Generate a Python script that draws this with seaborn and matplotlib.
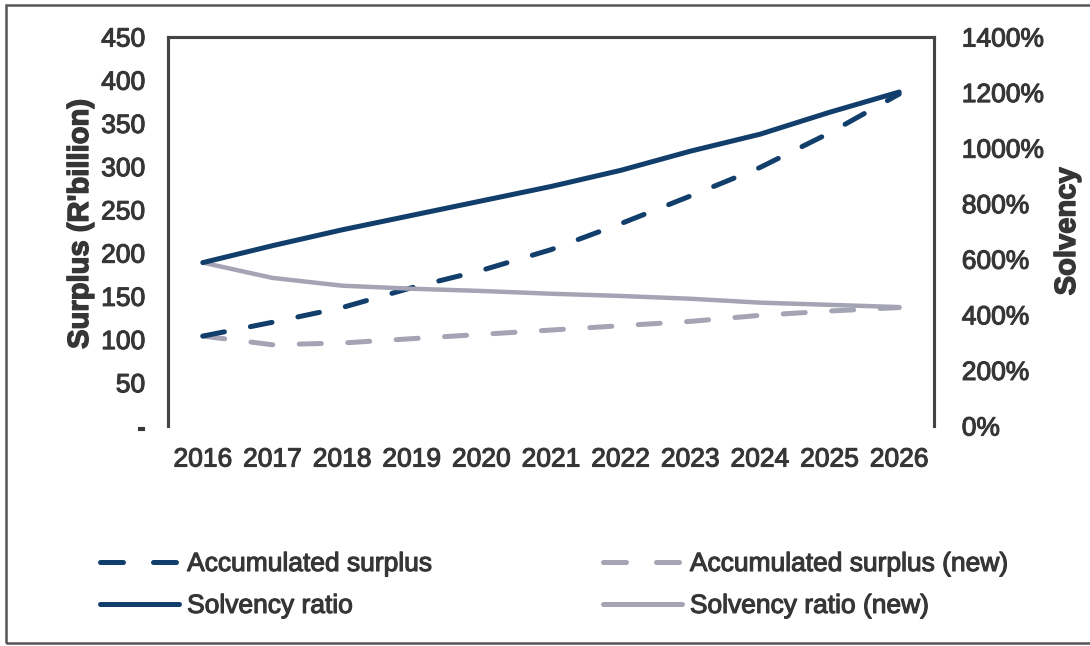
import numpy as np
import pandas as pd
import matplotlib
matplotlib.use("Agg")
import matplotlib.pyplot as plt
import matplotlib.patheffects as pe
import seaborn as sns
from matplotlib.patches import Rectangle

# -----------------------------
# Data
# -----------------------------
years = [2016, 2017, 2018, 2019, 2020, 2021, 2022, 2023, 2024, 2025, 2026]
acc_surplus = [104, 120, 137, 160, 180, 204, 234, 266, 299, 339, 384]      # R'billion
acc_surplus_new = [104, 94, 96, 101, 106, 111, 116, 121, 128, 133, 137]    # R'billion
solvency = [588, 649, 706, 758, 810, 862, 920, 989, 1050, 1129, 1202]      # %
solvency_new = [588, 533, 505, 494, 486, 476, 468, 458, 444, 436, 428]     # %

left_ticks = [0, 50, 100, 150, 200, 250, 300, 350, 400, 450]
left_labels = ["-", "50", "100", "150", "200", "250", "300", "350", "400", "450"]
right_ticks = [0, 200, 400, 600, 800, 1000, 1200, 1400]
right_labels = ["0%", "200%", "400%", "600%", "800%", "1000%", "1200%", "1400%"]

df = pd.DataFrame({
    "year": years,
    "acc": acc_surplus,
    "acc_new": acc_surplus_new,
    "solv": solvency,
    "solv_new": solvency_new,
})

navy = "#113e6a"
grey = "#a4a4b4"
txt = "#363636"
spine_col = "#444444"

sns.set_style("white")
plt.rcParams["font.family"] = ["Liberation Sans", "DejaVu Sans"]
thick = [pe.withStroke(linewidth=0.8, foreground=txt)]
thicker = [pe.withStroke(linewidth=1.0, foreground=txt)]

# -----------------------------
# Figure / axes layout
# -----------------------------
fig = plt.figure(figsize=(10.9, 6.46), dpi=100)
W, H = 1090, 646
ax = fig.add_axes([168 / W, 1 - 426 / H, (934 - 168) / W, (426 - 37) / H])
ax2 = ax.twinx()

lw = 3.6
dash = (4.4, 5.3)

# surplus on left axis (dashed)
sns.lineplot(data=df, x="year", y="acc_new", ax=ax, color=grey, lw=lw)
sns.lineplot(data=df, x="year", y="acc", ax=ax, color=navy, lw=lw)
for ln in ax.lines:
    ln.set_dashes(dash)
    ln.set_dash_capstyle("round")

# solvency on right axis (solid)
sns.lineplot(data=df, x="year", y="solv_new", ax=ax2, color=grey, lw=lw - 0.4)
sns.lineplot(data=df, x="year", y="solv", ax=ax2, color=navy, lw=lw)
for ln in ax2.lines:
    ln.set_solid_capstyle("round")

ax.set_xlim(2015.5, 2026.5)
ax.set_ylim(0, 450)
ax2.set_ylim(0, 1400)

for a in (ax, ax2):
    a.tick_params(axis="both", length=0, labelsize=19, labelcolor=txt)
    a.spines["bottom"].set_visible(False)
    for s in ("left", "top", "right"):
        a.spines[s].set_color(spine_col)
        a.spines[s].set_linewidth(2.2)
    a.grid(False)
ax.tick_params(axis="y", pad=16.5)
ax.tick_params(axis="x", pad=15.5)
ax2.tick_params(axis="y", pad=20)

ax.set_xticks(years)
tl = list(ax.set_xticklabels([str(y) for y in years]))
ax.set_yticks(left_ticks)
tl += list(ax.set_yticklabels(left_labels))
ax2.set_yticks(right_ticks)
tl += list(ax2.set_yticklabels(right_labels))
for lab in tl:
    lab.set_path_effects(thick)

# axis titles
ax.set_xlabel("")
ax.set_ylabel("Surplus (R'billion)", fontsize=21, fontweight="bold", color=txt, va="center")
ax2.set_ylabel("Solvency", fontsize=21, fontweight="bold", color=txt, va="center")
ax.yaxis.set_label_coords((80 - 168) / 766, 1 - (224 - 37) / 389)
ax2.yaxis.set_label_coords((1067 - 168) / 766, 0.5)
ax.yaxis.label.set_path_effects(thicker)
ax2.yaxis.label.set_path_effects(thicker)

# -----------------------------
# Legend
# -----------------------------
labels = ["Accumulated surplus", "Solvency ratio", "Accumulated surplus (new)", "Solvency ratio (new)"]
colors = [navy, navy, grey, grey]
handles = []
for name, c in zip(labels, colors):
    h = plt.Line2D([], [], color=c, lw=lw)
    if "Accumulated" in name:
        h.set_dashes((4.6, 6.0))
        h.set_dash_capstyle("round")
    else:
        h.set_solid_capstyle("round")
    handles.append(h)
leg = fig.legend(handles, labels, loc="upper left", ncol=2, frameon=False,
                 bbox_to_anchor=(100 / W, 1 - 552 / H), fontsize=19,
                 handlelength=3.0, handletextpad=0.3, columnspacing=6.45,
                 labelspacing=0.68, borderpad=0, borderaxespad=0)
for t in leg.get_texts():
    t.set_color(txt)
    t.set_path_effects(thick)

# outer chart border
fig.patches.append(Rectangle((6 / W, 3 / H), 1.2, 1 - 8 / H, transform=fig.transFigure,
                             fill=False, edgecolor="#555555", lw=1.8, clip_on=False))

fig.savefig("out.png", dpi=100)
